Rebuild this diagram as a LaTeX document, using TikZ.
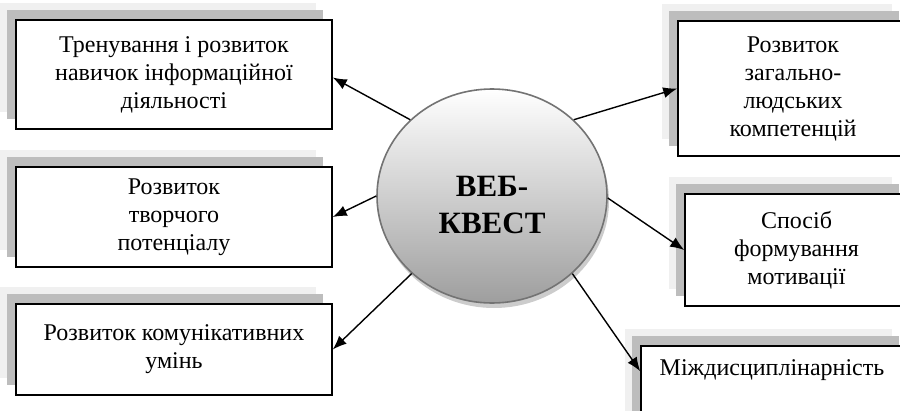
\documentclass[tikz,border=0pt]{standalone}
\usepackage{fontspec}
\setmainfont{Liberation Serif}
\usetikzlibrary{shapes.geometric,shadows,arrows.meta,calc}
\definecolor{shdark}{gray}{0.74}
\definecolor{shlight}{gray}{0.94}
\definecolor{rim}{gray}{0.45}
\definecolor{circshadow}{gray}{0.8}
\begin{document}
\begin{tikzpicture}[x=1pt,y=-1pt,
  box/.style={draw=black, line width=1.5pt, fill=white, align=center, inner sep=0pt,
    font=\fontsize{24}{28}\selectfont,
    general shadow={fill=shlight, shadow xshift=-16pt, shadow yshift=17pt},
    general shadow={fill=shdark, shadow xshift=-9pt, shadow yshift=10pt}},
  boxtext/.style={font=\fontsize{24}{28}\selectfont, inner sep=0pt},
  arr/.style={line width=1.4pt, -{Latex[length=14pt,width=11pt]}}]
\useasboundingbox (0,0) rectangle (900,410);
\fill[white] (0,0) rectangle (900,410);
\clip (0,0) rectangle (900,410);

\node[box, minimum width=316pt, minimum height=109pt] (b1) at (174,74.5)
  {Тренування і розвиток\\навичок інформаційної\\діяльності};
\node[box, minimum width=316pt, minimum height=100pt] (b2) at (174,217)
  {Розвиток\\творчого\\потенціалу};
\node[box, minimum width=316pt, minimum height=91pt] (b3) at (174,349.5)
  {Розвиток комунікативних\\умінь};
\node[box, minimum width=230pt, minimum height=135pt] (b4) at (793,88.5)
  {Розвиток\\загально-\\людських\\компетенцій};
\node[box, minimum width=223pt, minimum height=112pt] (b5) at (796.5,250)
  {Спосіб\\формування\\мотивації};
\node[box, minimum width=267pt, minimum height=94pt] (b6) at (774.5,393) {};
\node[boxtext] (t6) at (772,370) {Міждисциплінарність};

\node[ellipse, minimum width=230pt, minimum height=214pt, inner sep=0pt,
  draw=rim, line width=1.6pt, top color=white, middle color=black!12, bottom color=black!38,
  general shadow={fill=circshadow, shadow xshift=2pt, shadow yshift=-5pt}] (c) at (492,196) {};
\node[font=\bfseries\fontsize{31}{37}\selectfont, align=center, inner sep=0pt] (t) at (492,205) {ВЕБ-\\КВЕСТ};

\draw[arr] (c.137) -- ([yshift=-3pt]b1.east);
\draw[arr] (c.180) -- (b2.east);
\draw[arr] (c.224) -- (b3.east);
\draw[arr] (c.43.5) -- (b4.west);
\draw[arr] (c.359) -- (b5.west);
\draw[arr] (c.316) -- ([yshift=-26pt]b6.north west);
\end{tikzpicture}
\end{document}
